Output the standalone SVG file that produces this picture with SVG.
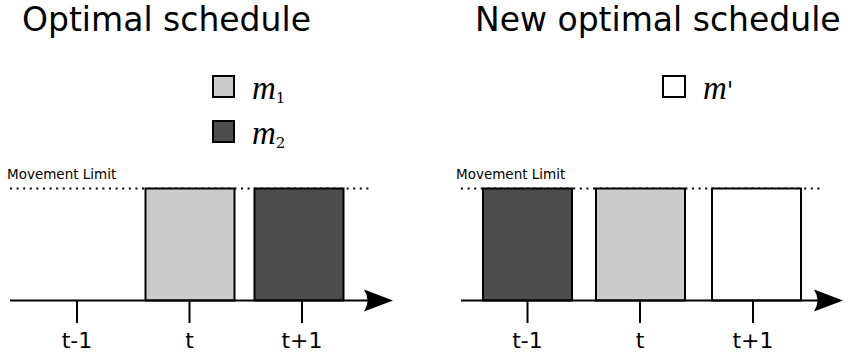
<svg xmlns="http://www.w3.org/2000/svg" width="848" height="358" viewBox="0 0 848 358">
<defs>
<style>
.title{font-family:"DejaVu Sans",sans-serif;font-size:33px;fill:#000}
.lim{font-family:"DejaVu Sans",sans-serif;font-size:13.5px;fill:#000}
.tick{font-family:"DejaVu Sans",sans-serif;font-size:22px;fill:#000;text-anchor:middle}
.math{font-family:"Liberation Serif",serif;font-style:italic;font-size:33px;fill:#000}
.sub{font-family:"DejaVu Serif","Liberation Serif",serif;font-style:normal;font-size:15px}
.box{stroke:#000;stroke-width:2}
.light{fill:#cccccc}
.dark{fill:#4d4d4d}
.white{fill:#ffffff}
.axis{stroke:#000;stroke-width:2;fill:none}
.dots{stroke:#000;stroke-width:2;stroke-dasharray:2 4.6;fill:none}
</style>
</defs>
<g id="titles">
<text class="title" x="22" y="31">Optimal schedule</text>
<text class="title" x="475" y="31">New optimal schedule</text>
</g>
<g id="legend-left">
<rect class="box light" x="213" y="76" width="21" height="21"/>
<text class="math" x="252" y="98.5">m<tspan class="sub" dy="4.5">1</tspan></text>
<rect class="box dark" x="213" y="121" width="21" height="21"/>
<text class="math" x="252" y="143.5">m<tspan class="sub" dy="4.5">2</tspan></text>
</g>
<g id="legend-right">
<rect class="box white" x="663" y="76" width="22" height="21"/>
<text class="math" x="703" y="98.5">m<tspan style="font-style:normal;font-family:'DejaVu Serif',serif;font-size:24px">'</tspan></text>
</g>
<g id="limits">
<text class="lim" x="7" y="179">Movement Limit</text>
<text class="lim" x="456" y="179">Movement Limit</text>
<line class="dots" x1="10" y1="188.5" x2="372" y2="188.5"/>
<line class="dots" x1="461" y1="188.5" x2="822" y2="188.5"/>
</g>
<g id="box-m1-left"><rect class="box light" x="145.5" y="188.5" width="89" height="112"/></g>
<g id="box-m2-left"><rect class="box dark" x="254.5" y="188.5" width="89" height="112"/></g>
<g id="box-m2-right"><rect class="box dark" x="483" y="188.5" width="89" height="112"/></g>
<g id="box-m1-right"><rect class="box light" x="596" y="188.5" width="89" height="112"/></g>
<g id="box-mprime-right"><rect class="box white" x="712" y="188.5" width="89" height="112"/></g>
<g id="connectors">
<line class="axis" x1="10" y1="300.5" x2="372" y2="300.5"/>
<path d="M393,300.5 L364,289.5 Q371,300.5 364,311.5 Z" fill="#000"/>
<line class="axis" x1="461" y1="300.5" x2="822" y2="300.5"/>
<path d="M843,300.5 L814,289.5 Q821,300.5 814,311.5 Z" fill="#000"/>
<line class="axis" x1="77" y1="300.5" x2="77" y2="323"/>
<line class="axis" x1="189.5" y1="300.5" x2="189.5" y2="323"/>
<line class="axis" x1="302" y1="300.5" x2="302" y2="323"/>
<line class="axis" x1="527.5" y1="300.5" x2="527.5" y2="323"/>
<line class="axis" x1="640" y1="300.5" x2="640" y2="323"/>
<line class="axis" x1="753" y1="300.5" x2="753" y2="323"/>
</g>
<g id="tick-labels">
<text class="tick" x="77" y="348">t-1</text>
<text class="tick" x="189.5" y="348">t</text>
<text class="tick" x="302" y="348">t+1</text>
<text class="tick" x="527.5" y="348">t-1</text>
<text class="tick" x="640" y="348">t</text>
<text class="tick" x="753" y="348">t+1</text>
</g>
</svg>
